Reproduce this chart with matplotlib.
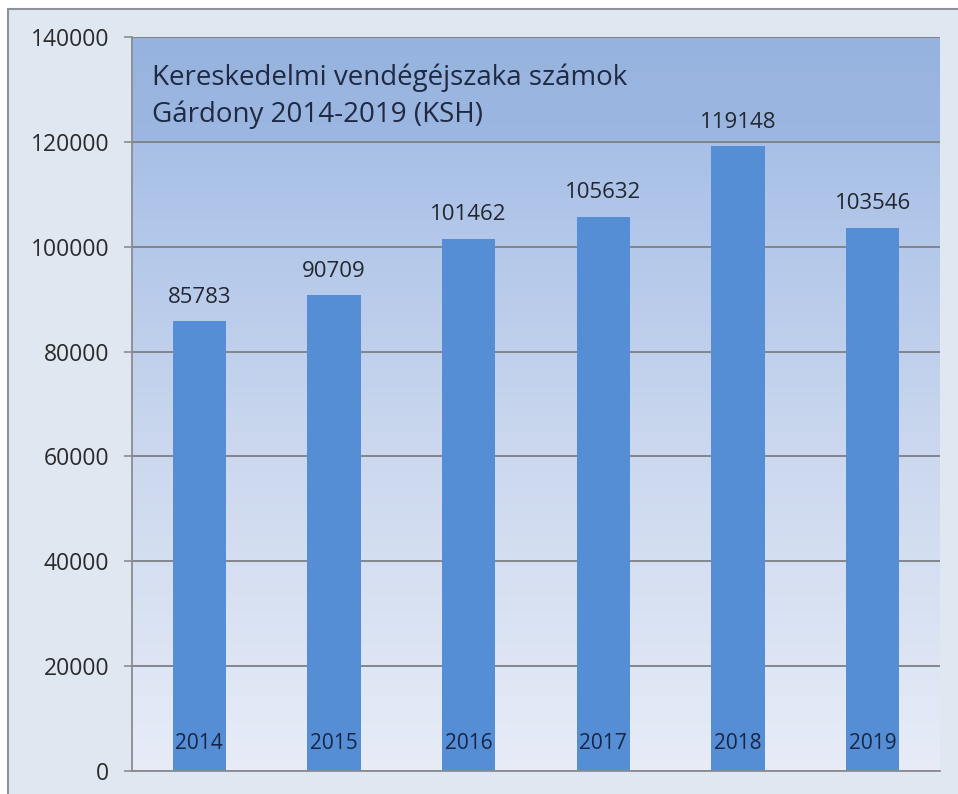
import numpy as np
import matplotlib
matplotlib.use("Agg")
import matplotlib.pyplot as plt
from matplotlib.colors import LinearSegmentedColormap
from matplotlib.patches import Rectangle

# data
years = [2014, 2015, 2016, 2017, 2018, 2019]
nights = [85783, 90709, 101462, 105632, 119148, 103546]
y_ticks = [0, 20000, 40000, 60000, 80000, 100000, 120000, 140000]
title_lines = ["Kereskedelmi vendégéjszaka számok", "Gárdony 2014-2019 (KSH)"]

W, H = 958, 794
fig = plt.figure(figsize=(W / 100, H / 100), dpi=100, facecolor="white")

# outer chart frame (light blue-grey panel with grey border, open to right/bottom)
fig.patches.append(Rectangle((8 / W, -0.1), 1.2, 1.1 - 9 / H, transform=fig.transFigure,
                             facecolor="#dfe7f1", edgecolor="#8e939b", lw=1.5, zorder=-5))

ax = fig.add_axes([132 / W, 23 / H, 808 / W, 734 / H])
ax.set_facecolor("none")

# vertical gradient of the plot area
grad_cmap = LinearSegmentedColormap.from_list(
    "bg", [(0.0, "#e7ecf7"), (0.45, "#cad7ee"), (0.857, "#a8c0e7"), (0.86, "#9cb7e1"), (1.0, "#96b3df")])
grad = np.linspace(0, 1, 256).reshape(-1, 1)
ax.imshow(grad, cmap=grad_cmap, origin="lower", aspect="auto",
          extent=[-0.5, len(years) - 0.5, 0, 140000], zorder=0)

x = np.arange(len(years))
ax.bar(x, nights, width=0.395, color="#558ed5", zorder=2)

ax.set_xlim(-0.5, len(years) - 0.5)
ax.set_ylim(0, 140000)
ax.set_yticks(y_ticks)
ax.set_yticklabels([str(t) for t in y_ticks])
ax.set_xticks([])

ax.yaxis.grid(True, color="#7d7f84", lw=1.3)
ax.set_axisbelow(True)
for s in ["top", "right"]:
    ax.spines[s].set_visible(False)
for s in ["left", "bottom"]:
    ax.spines[s].set_color("#8a8c90")
    ax.spines[s].set_linewidth(1.3)
ax.tick_params(axis="y", length=6, width=1.2, color="#8a8c90", pad=10.5,
               labelsize=16.5, labelcolor="#2b2b2b")
for lab in ax.get_yticklabels():
    lab.set_family("Open Sans")

# value labels above bars
for xi, v in zip(x, nights):
    ax.annotate(str(v), (xi, v), xytext=(0, 13.5), textcoords="offset points",
                ha="center", va="baseline", fontsize=16, color="#23272f",
                family="Open Sans", zorder=4)

# year labels inside bars
for xi, yr in zip(x, years):
    ax.text(xi, 5150, str(yr), ha="center", va="center", fontsize=15,
            color="#172646", family=["Liberation Sans Narrow", "Open Sans"], zorder=4)

# title inside the plot area
fig.text(152 / W, 1 - 85 / H, title_lines[0], ha="left", va="baseline",
         fontsize=20, color="#1f2a42", family="Open Sans")
fig.text(152 / W, 1 - 122 / H, title_lines[1], ha="left", va="baseline",
         fontsize=20, color="#1f2a42", family="Open Sans")

fig.savefig("out.png", dpi=100, facecolor=fig.get_facecolor())
